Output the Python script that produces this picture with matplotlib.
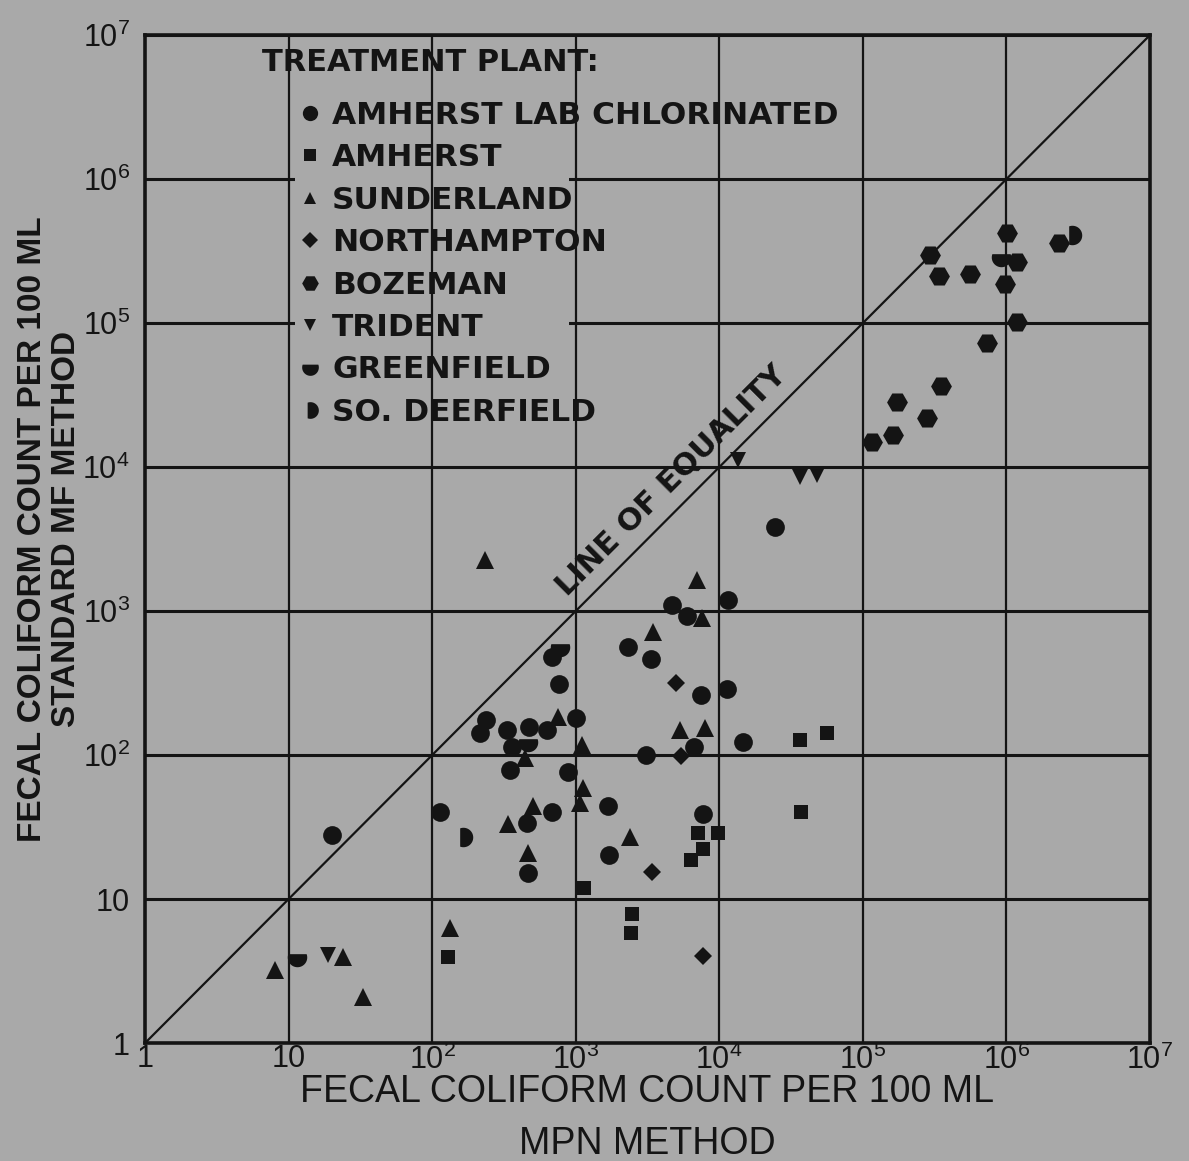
import numpy as np
import matplotlib
matplotlib.use("Agg")
import matplotlib.pyplot as plt
from matplotlib.path import Path
from matplotlib.lines import Line2D
from matplotlib.patches import Rectangle

# ---- data (MPN count, MF count) ----
chlor_x = [20, 113, 237, 215, 332, 472, 630, 1003, 359, 348, 883, 683, 764, 2310, 3340,
           4680, 5940, 11500, 7450, 11300, 3110, 6650, 14600, 1680, 7690, 1700, 683, 457,
           465, 24400]
chlor_y = [28, 40, 175, 142, 149, 156, 149, 181, 114, 79, 76, 480, 311, 562, 464,
           1100, 923, 1190, 261, 287, 100, 113, 123, 44, 39, 20.3, 40, 34,
           15.2, 3830]

amherst_x = [129, 1140, 2460, 2420, 7100, 9780, 7690, 6340, 36400, 56100, 37000]
amherst_y = [3.96, 11.9, 7.87, 5.8, 28.7, 28.7, 22.2, 18.7, 127, 142, 40.2]

sunder_x = [8.0, 23.9, 33, 133, 233, 6980, 3450, 7560, 752, 1105, 443, 1122, 5310, 7940,
            504, 337, 465, 2385, 1070]
sunder_y = [3.2, 3.96, 2.09, 6.3, 2260, 1640, 715, 894, 184, 117, 95, 59, 149, 154,
            44, 33, 20.9, 27, 46.4]

northamp_x = [4990, 5400, 3400, 7690]
northamp_y = [316, 98, 15.4, 4.0]

bozeman_x = [2.93e5, 3.38e5, 5.56e5, 1.006e6, 1.18e6, 9.75e5, 1.18e6, 2.35e6, 7.3e5,
             3.49e5, 1.72e5, 2.79e5, 1.62e5, 1.16e5]
bozeman_y = [2.96e5, 2.12e5, 2.19e5, 4.22e5, 2.65e5, 1.87e5, 1.02e5, 3.59e5, 7.26e4,
             3.65e4, 2.83e4, 2.19e4, 1.67e4, 1.49e4]

trident_x = [18.8, 13500, 36400, 47800]
trident_y = [4.08, 11200, 8530, 8800]

greenf_x = [11.4, 776, 465, 9.14e5]
greenf_y = [3.96, 562, 123, 2.87e5]

sodeer_x = [164, 2.85e6]
sodeer_y = [27, 4.08e5]

equality = [1, 1e7]
ticks = [1, 10, 1e2, 1e3, 1e4, 1e5, 1e6, 1e7]
tick_labels = ["1", "10"] + [r"$\mathregular{10^{%d}}$" % k for k in range(2, 8)]

labels = ["AMHERST LAB CHLORINATED", "AMHERST", "SUNDERLAND", "NORTHAMPTON",
          "BOZEMAN", "TRIDENT", "GREENFIELD", "SO. DEERFIELD"]

# ---- style ----
bg = "#a9a9a9"
ink = "#141414"
plt.rcParams["font.family"] = ["Liberation Sans", "DejaVu Sans"]
wide = "DejaVu Sans"


def cut_circle(a0, a1):
    t = np.radians(np.linspace(a0, a1, 40))
    v = np.column_stack([np.cos(t), np.sin(t)])
    v = np.vstack([v, v[:1]])
    return Path(v, closed=True)


gf_marker = cut_circle(160, 380)   # flat top
sd_marker = cut_circle(-110, 110)  # flat left

series = [
    (chlor_x, chlor_y, "o", 13.5),
    (amherst_x, amherst_y, "s", 10),
    (sunder_x, sunder_y, "^", 13),
    (northamp_x, northamp_y, "D", 9),
    (bozeman_x, bozeman_y, "H", 15),
    (trident_x, trident_y, "v", 11),
    (greenf_x, greenf_y, gf_marker, 14),
    (sodeer_x, sodeer_y, sd_marker, 14),
]
legend_sizes = [11, 8, 9, 8, 12, 9, 12, 12]

fig = plt.figure(figsize=(11.89, 11.61), dpi=100, facecolor=bg)
ax = fig.add_axes([0.122, 0.1016, 0.845, 0.868])
ax.set_facecolor(bg)
ax.set_xscale("log")
ax.set_yscale("log")
ax.set_xlim(1, 1e7)
ax.set_ylim(1, 1e7)
ax.set_axisbelow(True)

# grid: horizontal lines are broken where the legend sits
ax.grid(axis="y", which="major", color=ink, lw=2.2)
ax.grid(axis="x", which="major", visible=False)
ax.grid(which="minor", visible=False)
ax.add_patch(Rectangle((11, 2.5e4), 900 - 11, 9e6 - 2.5e4, facecolor=bg,
                       edgecolor="none", zorder=0.8))
for t in ticks[1:-1]:
    ax.axvline(t, color=ink, lw=1.6, zorder=1)

ax.plot(equality, equality, color=ink, lw=1.6, zorder=1.5)
ax.text(4680, 8100, "LINE OF EQUALITY", rotation=45, rotation_mode="anchor",
        ha="center", va="center", fontsize=22, family=wide, fontweight="bold",
        color=ink, zorder=2)

for (x, y, m, ms) in series:
    ax.plot(x, y, ls="none", marker=m, markersize=ms, color=ink,
            markeredgewidth=0, zorder=3)

for s in ax.spines.values():
    s.set_color(ink)
    s.set_linewidth(2.6)

ax.set_xticks(ticks)
ax.set_xticklabels(tick_labels, fontsize=22, color=ink)
ax.set_yticks(ticks)
ax.set_yticklabels(tick_labels, fontsize=22, color=ink)
ax.xaxis.set_minor_locator(matplotlib.ticker.NullLocator())
ax.yaxis.set_minor_locator(matplotlib.ticker.NullLocator())
ax.tick_params(axis="both", length=0)
ax.tick_params(axis="x", pad=1)
ax.tick_params(axis="y", pad=11)

ax.set_xlabel("FECAL COLIFORM COUNT PER 100 ML\nMPN METHOD", fontsize=27,
              color=ink, labelpad=-1, linespacing=1.55)
ax.set_ylabel("FECAL COLIFORM COUNT PER 100 ML\nSTANDARD MF METHOD", fontsize=24,
              fontweight="bold", color=ink, labelpad=0, linespacing=1.15)
ax.yaxis.label.set_y(0.51)

# legend
ax.text(0.116, 0.973, "TREATMENT PLANT:", transform=ax.transAxes, fontsize=22,
        family=wide, fontweight="bold", color=ink, ha="left", va="center", zorder=5)
handles = [Line2D([], [], ls="none", marker=m, color=ink, markeredgewidth=0,
                  markersize=s) for (_, _, m, _), s in zip(series, legend_sizes)]
leg = ax.legend(handles, labels, loc="upper left", bbox_to_anchor=(0.155, 0.935),
                frameon=False, prop={"family": wide, "weight": "bold", "size": 22.5},
                borderpad=0, borderaxespad=0, handlelength=0.6, handletextpad=0.4,
                labelspacing=0.43)
for txt in leg.get_texts():
    txt.set_color(ink)
leg.set_zorder(5)

fig.savefig("out.png", dpi=100, facecolor=bg)
